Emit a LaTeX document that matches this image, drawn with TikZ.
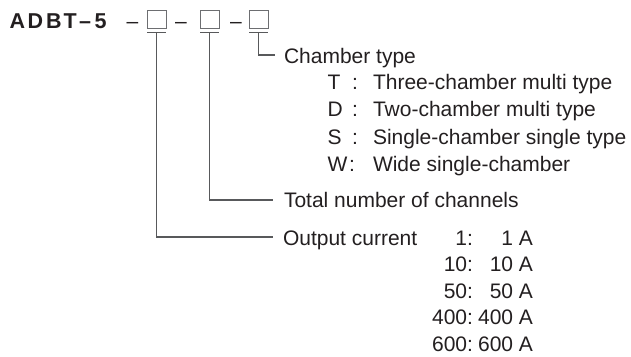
\documentclass[tikz,border=0pt]{standalone}
\usepackage{fontspec}
\setmainfont{Liberation Sans}
\definecolor{txt}{HTML}{231F20}
\definecolor{ln}{HTML}{58595B}
\definecolor{bx}{HTML}{6D6E71}
\begin{document}
\begin{tikzpicture}[x=1pt,y=-1pt,
  every node/.style={inner sep=0pt,outer sep=0pt,text=txt,font=\fontsize{21}{25}\selectfont},
  codebox/.style={draw=bx,line width=0.8pt,minimum width=19pt,minimum height=17.6pt},
  bar/.style={draw=ln,line width=1.3pt},
  conn/.style={draw=ln,line width=1.2pt},
  lbl/.style={anchor=base west},
  key/.style={anchor=base east}]
\useasboundingbox (0,0) rectangle (631,356);
% title
\node[anchor=base west,font=\fontsize{21.5}{25}\selectfont\bfseries] (title) at (9.5,28)
  {A\hspace{2.5pt}D\hspace{3pt}B\hspace{2pt}T\hspace{2.5pt}–\hspace{3.5pt}5};
% dashes and boxes
\node[anchor=base] (d1) at (132.5,28) {–};
\node[anchor=base] (d2) at (181,28) {–};
\node[anchor=base] (d3) at (236,28) {–};
\node[codebox] (b1) at (156.5,19.5) {};
\node[codebox] (b2) at (209.5,19.5) {};
\node[codebox] (b3) at (258.5,19.5) {};
\foreach \b in {b1,b2,b3}{
  \draw[bar] ([yshift=-4pt]\b.south west) -- ([yshift=-4pt]\b.south east);
}
% end points of connectors
\coordinate (e3) at (275,55);
\coordinate (e2) at (273,200);
\coordinate (e1) at (273,237);
\draw[conn] ([yshift=-4pt]b3.south) |- (e3);
\draw[conn] ([yshift=-4pt]b2.south) |- (e2);
\draw[conn] ([yshift=-4pt]b1.south) |- (e1);
% chamber type
\node[lbl] (ct) at (284,63) {Chamber type};
\node[lbl] (kT) at (327.5,89) {T};
\node[lbl] (kD) at (327.5,116.5) {D};
\node[lbl] (kS) at (327.5,144) {S};
\node[lbl] (kW) at (327.5,171.5) {W};
\node[anchor=base] (cT) at (355,89) {:};
\node[anchor=base] (cD) at (355,116.5) {:};
\node[anchor=base] (cS) at (355,144) {:};
\node[anchor=base] (cW) at (352,171.5) {:};
\node[lbl] (tT) at (373,89) {Three-chamber multi type};
\node[lbl] (tD) at (373,116.5) {Two-chamber multi type};
\node[lbl] (tS) at (373,144) {Single-chamber single type};
\node[lbl] (tW) at (373,171.5) {Wide single-chamber};
% channels
\node[lbl] (tn) at (284,207) {Total number of channels};
% output current
\node[lbl] (oc) at (283,245) {Output current};
\node[key] (k1) at (473,245) {1:};
\node[key] (k2) at (473,271.5) {10:};
\node[key] (k3) at (473,298) {50:};
\node[key] (k4) at (473,324.7) {400:};
\node[key] (k5) at (473,351.3) {600:};
\node[key] (v1) at (533,245) {1 A};
\node[key] (v2) at (533,271.5) {10 A};
\node[key] (v3) at (533,298) {50 A};
\node[key] (v4) at (533,324.7) {400 A};
\node[key] (v5) at (533,351.3) {600 A};
\end{tikzpicture}
\end{document}
